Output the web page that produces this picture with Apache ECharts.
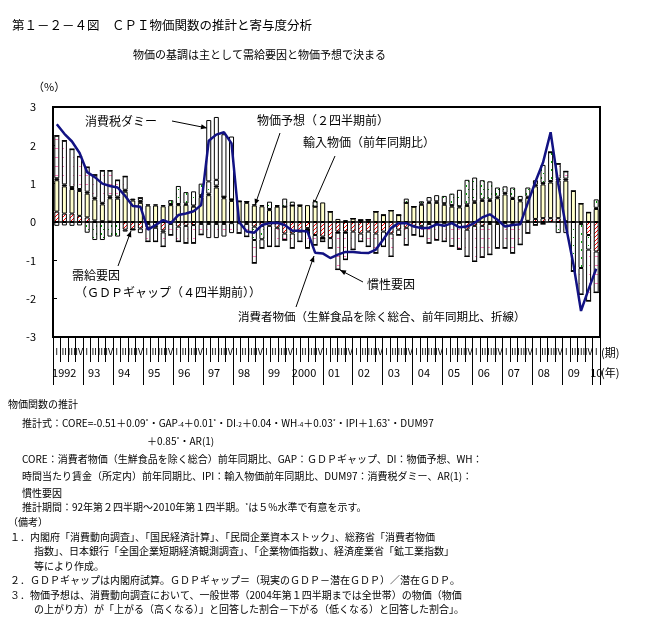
<!DOCTYPE html>
<html><head><meta charset="utf-8">
<script src="https://cdn.jsdelivr.net/npm/echarts@6/dist/echarts.min.js"></script>
<style>html,body{margin:0;padding:0;background:#fff}#c{width:659px;height:641px}</style>
</head><body><div id="c"></div>
<script>
// ---- data ----
const dataQuarters = ["92Q2","92Q3","92Q4","93Q1","93Q2","93Q3","93Q4","94Q1","94Q2","94Q3","94Q4","95Q1","95Q2","95Q3","95Q4","96Q1","96Q2","96Q3","96Q4","97Q1","97Q2","97Q3","97Q4","98Q1","98Q2","98Q3","98Q4","99Q1","99Q2","99Q3","99Q4","00Q1","00Q2","00Q3","00Q4","01Q1","01Q2","01Q3","01Q4","02Q1","02Q2","02Q3","02Q4","03Q1","03Q2","03Q3","03Q4","04Q1","04Q2","04Q3","04Q4","05Q1","05Q2","05Q3","05Q4","06Q1","06Q2","06Q3","06Q4","07Q1","07Q2","07Q3","07Q4","08Q1","08Q2","08Q3","08Q4","09Q1","09Q2","09Q3","09Q4","10Q1"];
const axisQuarters = ["92Q1","92Q2","92Q3","92Q4","93Q1","93Q2","93Q3","93Q4","94Q1","94Q2","94Q3","94Q4","95Q1","95Q2","95Q3","95Q4","96Q1","96Q2","96Q3","96Q4","97Q1","97Q2","97Q3","97Q4","98Q1","98Q2","98Q3","98Q4","99Q1","99Q2","99Q3","99Q4","00Q1","00Q2","00Q3","00Q4","01Q1","01Q2","01Q3","01Q4","02Q1","02Q2","02Q3","02Q4","03Q1","03Q2","03Q3","03Q4","04Q1","04Q2","04Q3","04Q4","05Q1","05Q2","05Q3","05Q4","06Q1","06Q2","06Q3","06Q4","07Q1","07Q2","07Q3","07Q4","08Q1","08Q2","08Q3","08Q4","09Q1","09Q2","09Q3","09Q4","10Q1"];
const quarterTickLabels = {"Q1":"Ⅰ","Q2":"Ⅱ","Q3":"Ⅲ","Q4":"Ⅳ"};
const yearTickLabels = ["1992","93","94","95","96","97","98","99","2000","01","02","03","04","05","06","07","08","09","10"];
const yTicks = [-3,-2,-1,0,1,2,3];

// 需給要因（GDPギャップ）
const gapData = [0.27,0.22,0.22, 0.16,0.12,0.04,0.02, 0.01,0.00,-0.20,-0.19, -0.17,-0.05,-0.10,-0.22, -0.05,-0.12,-0.10,-0.08, -0.05,-0.05,-0.05,-0.05, -0.03,-0.03,-0.05,-0.12, -0.10,-0.10,-0.15,-0.30, -0.30,-0.25,-0.16,-0.34, -0.38,-0.42,-0.25,-0.25, -0.25,-0.30,-0.25,-0.30, -0.25,-0.30,-0.20,-0.15, -0.10,-0.10,-0.05,-0.05, -0.03,-0.03,-0.02,-0.20, -0.10,-0.10,-0.05,-0.05, -0.03,-0.03,-0.03,0.03, 0.08,0.10,0.10,0.10, 0.02,0.00,-0.05,-0.34, -0.77];
// 物価予想（2四半期前）
const expData = [0.82,0.71,0.64, 0.65,0.62,0.55,0.44, 0.61,0.61,0.79,0.56, 0.50,0.43,0.43,0.41, 0.44,0.44,0.45,0.40, 0.65,0.70,0.90,0.62, 0.55,0.54,0.50,0.43, 0.41,0.31,0.40,0.40, 0.43,0.42,0.44,0.40, 0.51,0.27,0.08,0.05, 0.09,0.05,0.06,0.27, 0.18,0.30,0.18,0.50, 0.40,0.45,0.50,0.50, 0.45,0.40,0.38,0.42, 0.50,0.55,0.55,0.62, 0.72,0.60,0.54,0.60, 0.85,0.88,0.93,0.98, 1.06,0.81,0.48,0.25, 0.34];
// 時間当たり賃金
const wageData = [0.05,0.05,0.05, 0.05,0.05,0.04,0.04, 0.05,0.05,0.05,0.05, 0.05,0.03,0.03,0.03, 0.03,0.03,0.03,0.03, 0.05,0.04,0.05,0.04, 0.04,0.00,0.03,0.03, 0.03,0.03,0.02,0.00, 0.00,0.02,-0.08,0.00, -0.05,0.00,-0.03,-0.03, 0,0,0,0, 0,0,0,0, 0,0.03,0.03,0.04, 0.04,0.04,0.03,0.04, 0.04,0.04,0.04,0.04, 0.04,0.03,0.03,0.03, 0.04,0.04,0.04,0.05, 0.05,0,0,0, 0.03];
// 輸入物価（前年同期比）
const importData = [-0.10,-0.09,-0.10, -0.09,-0.28,-0.47,-0.47, -0.38,-0.38,-0.05,-0.01, -0.12,-0.10,-0.05,-0.05, 0.10,0.47,0.30,0.37, 0.30,0.32,0.15,0.00, 0,0,0,-0.35, -0.35,0.19,0.02,0.21, 0.10,0,0,0.14, 0,0,0,0, 0,0,0,0, 0,0,0,0.11, 0,0.06,0.12,0.16, 0.19,0.30,0.43,0.64, 0.62,0.50,0.47,0.24, 0.17,0.27,0.11,0.24, 0.12,0.47,0.75,-0.29, -0.29,-1.28,-1.15,-0.38, 0.22];
// 消費税ダミー
const taxData = [0,0,0, 0,0,0,0, 0,0,0,0, 0,0,0,0, 0,0,0,0, 0,1.60,1.64,1.63, 1.64,0,0,0, 0,0,0,0, 0,0,0,0, 0,0,0,0, 0,0,0,0, 0,0,0,0, 0,0,0,0, 0,0,0,0, 0,0,0,0, 0,0,0,0, 0,0,0,0, 0,0,0,0, 0];
// 慣性要因
const inertiaData = [1.11,1.14,0.99, 0.85,0.64,0.60,0.84, 0.67,0.43,0.35,0.00, 0.08,-0.36,-0.36,-0.37, -0.29,-0.39,-0.45,-0.47, -0.28,-0.37,-0.37,-0.33, -0.26,-0.26,-0.33,-0.60, -0.23,-0.54,-0.49,-0.17, -0.38,-0.26,-0.44,-0.26, -0.08,-0.26,-0.96,-0.70, -0.47,-0.21,-0.39,-0.51, -0.39,-0.60,-0.14,-0.45, -0.24,-0.28,-0.50,-0.42, -0.48,-0.60,-0.69,-0.70, -0.93,-0.82,-0.80,-0.63, -0.65,-0.78,-0.56,-0.29, -0.08,-0.05,0.00,0.39, 0.19,0.00,-0.69,-1.34, -1.07];
// 消費者物価（生鮮食品を除く総合、前年同期比）
const coreCPI = [2.55,2.30,2.10, 1.80,1.30,1.17,1.00, 0.94,0.90,0.68,0.42, 0.40,-0.20,-0.08,0.05, -0.03,0.18,0.22,0.28, 0.44,2.12,2.28,2.34, 2.05,0.00,-0.25,-0.28, -0.08,-0.03,-0.02,-0.08, -0.23,-0.23,-0.25,-0.80, -0.82,-0.94,-0.85,-0.78, -0.78,-0.80,-0.81,-0.72, -0.45,-0.16,-0.03,-0.03, -0.12,-0.16,-0.15,-0.06, -0.10,-0.03,-0.14,-0.12, -0.02,0.12,0.20,0.06, -0.12,-0.08,-0.06,0.50, 1.05,1.55,2.34,1.00, -0.10,-1.10,-2.32,-1.75, -1.22];

// ---- patterns ----
function pat(w, h, draw) {
  const c = document.createElement('canvas'); c.width = w; c.height = h;
  const g = c.getContext('2d'); g.fillStyle = '#fff'; g.fillRect(0, 0, w, h); draw(g);
  return { image: c, repeat: 'repeat' };
}
const redHatch = pat(4, 4, g => { g.strokeStyle = '#ff0000'; g.lineWidth = 1;
  [[0,4,4,0],[-1,1,1,-1],[3,5,5,3]].forEach(s => { g.beginPath(); g.moveTo(s[0], s[1]); g.lineTo(s[2], s[3]); g.stroke(); }); });
const greenDots = pat(5, 8, g => { g.fillStyle = '#009a00'; g.fillRect(1, 1, 1, 2); g.fillRect(3, 5, 1, 1); });
const pinkDash = pat(6, 9, g => { g.fillStyle = '#ff7fbf'; g.fillRect(1, 4, 3, 1); });

const JP = '"Noto Sans CJK JP", sans-serif';
function txt(x, y, text, size, extra) {
  return Object.assign({ type: 'text', x: x, y: y, silent: true,
    style: Object.assign({ text: text, fill: '#000', font: size + 'px ' + JP, textVerticalAlign: 'middle', verticalAlign: 'middle' }, extra || {}) });
}
function arrow(x1, y1, x2, y2) {
  const a = Math.atan2(y2 - y1, x2 - x1), L = 6, W = 2.5;
  const pts = [[x2, y2], [x2 - L * Math.cos(a) + W * Math.sin(a), y2 - L * Math.sin(a) - W * Math.cos(a)], [x2 - L * Math.cos(a) - W * Math.sin(a), y2 - L * Math.sin(a) + W * Math.cos(a)]];
  return [{ type: 'line', silent: true, shape: { x1: x1, y1: y1, x2: x2, y2: y2 }, style: { stroke: '#000', lineWidth: 1 } },
          { type: 'polygon', silent: true, shape: { points: pts }, style: { fill: '#000' } }];
}
const rich = { sup: { fontSize: 6.5, verticalAlign: 'top', fontFamily: JP }, sub: { fontSize: 6.5, verticalAlign: 'bottom', fontFamily: JP } };
const FN = 10;

const graphics = [
  txt(12, 25, '第１－２－４図　ＣＰＩ物価関数の推計と寄与度分析', 12.5),
  txt(133, 55, '物価の基調は主として需給要因と物価予想で決まる', 11),
  txt(33, 87, '（%）', 11),
  txt(85, 121, '消費税ダミー', 12),
  txt(257, 120, '物価予想（２四半期前）', 12),
  txt(303, 142, '輸入物価（前年同期比）', 12),
  txt(72, 275, '需給要因', 12),
  txt(75, 292, '（ＧＤＰギャップ（４四半期前））', 12),
  txt(367, 284, '慣性要因', 12),
  txt(238, 317, '消費者物価（生鮮食品を除く総合、前年同期比、折線）', 11.5),
  txt(601, 353, '(期)', 11),
  txt(601, 373, '(年)', 11),
  txt(8, 404, '物価関数の推計', FN),
  txt(22, 423, '推計式：CORE=-0.51＋0.09{sup|*}・GAP{sub|-4}＋0.01{sup|*}・DI{sub|-2}＋0.04・WH{sub|-4}＋0.03{sup|*}・IPI＋1.63{sup|*}・DUM97', FN, { rich: rich }),
  txt(147, 441, '＋0.85{sup|*}・AR(1)', FN, { rich: rich }),
  txt(22, 459, 'CORE：消費者物価（生鮮食品を除く総合）前年同期比、GAP：ＧＤＰギャップ、DI：物価予想、WH：', FN),
  txt(22, 476, '時間当たり賃金（所定内）前年同期比、IPI：輸入物価前年同期比、DUM97：消費税ダミー、AR(1)：', FN),
  txt(22, 493, '慣性要因', FN),
  txt(22, 507, '推計期間：92年第２四半期～2010年第１四半期。{sup|*}は５%水準で有意を示す。', FN, { rich: rich }),
  txt(8, 522, '（備考）', FN),
  txt(10, 537, '１．内閣府「消費動向調査」、「国民経済計算」、「民間企業資本ストック」、総務省「消費者物価', FN),
  txt(34, 551, '指数」、日本銀行「全国企業短期経済観測調査」、「企業物価指数」、経済産業省「鉱工業指数」', FN),
  txt(34, 566, '等により作成。', FN),
  txt(10, 580, '２．ＧＤＰギャップは内閣府試算。ＧＤＰギャップ＝（現実のＧＤＰ－潜在ＧＤＰ）／潜在ＧＤＰ。', FN),
  txt(10, 595, '３．物価予想は、消費動向調査において、一般世帯（2004年第１四半期までは全世帯）の物価（物価', FN),
  txt(34, 609, 'の上がり方）が「上がる（高くなる）」と回答した割合－下がる（低くなる）と回答した割合」。', FN)
].concat(
  arrow(172, 121, 207, 128),
  arrow(280, 133, 255, 205),
  arrow(335, 156, 313, 206),
  arrow(118, 266, 131, 231),
  arrow(363, 282, 340, 270),
  arrow(296, 307, 314, 256)
);

function barSeries(name, data, color) {
  return { name: name, type: 'bar', stack: 'total', data: data, barWidth: 5, xAxisIndex: 0,
    itemStyle: { color: color, borderColor: '#000', borderWidth: 1 }, emphasis: { disabled: true } };
}

const chart = echarts.init(document.getElementById('c'), null, { renderer: 'canvas' });
chart.setOption({
  animation: false,
  backgroundColor: '#fff',
  grid: { left: 53, right: 59, top: 107, bottom: 304, show: true, borderColor: '#000', borderWidth: 2, backgroundColor: 'transparent' },
  xAxis: [
    { type: 'category', data: dataQuarters, show: false, boundaryGap: true },
    { type: 'category', data: axisQuarters, position: 'bottom', boundaryGap: true,
      axisLine: { show: true, lineStyle: { color: '#000', width: 2 } },
      axisTick: { show: true, length: 25, interval: 0, lineStyle: { color: '#000', width: 1 } },
      axisLabel: { interval: 0, margin: 10, fontSize: 9, fontFamily: JP, color: '#000',
        formatter: v => quarterTickLabels[v.slice(2)] } },
    { type: 'category', data: axisQuarters, position: 'bottom', boundaryGap: true,
      axisLine: { show: false },
      axisTick: { show: true, length: 48, interval: i => i % 4 === 0, lineStyle: { color: '#000', width: 1 } },
      axisLabel: { interval: i => (i % 4 === 1 || i === 72), margin: 30, fontSize: 11, fontFamily: JP, color: '#000',
        formatter: (v, i) => i === 72 ? yearTickLabels[18] : yearTickLabels[(i - 1) / 4] } }
  ],
  yAxis: { type: 'value', min: yTicks[0], max: yTicks[yTicks.length - 1], interval: 1,
    axisLine: { show: true, lineStyle: { color: '#000', width: 2 } },
    axisTick: { show: true, inside: true, length: 4, lineStyle: { color: '#000' } },
    splitLine: { show: false },
    axisLabel: { margin: 17, fontSize: 11, fontFamily: JP, color: '#000' } },
  series: [
    Object.assign(barSeries('需給要因', gapData, redHatch), {
      markLine: { silent: true, symbol: ['none', 'none'], label: { show: false },
        lineStyle: { color: '#000', width: 1.5, type: 'solid' }, data: [{ yAxis: 0 }] } }),
    barSeries('物価予想', expData, '#ffffcc'),
    barSeries('時間当たり賃金', wageData, '#000'),
    barSeries('輸入物価', importData, greenDots),
    barSeries('慣性要因', inertiaData, pinkDash),
    barSeries('消費税ダミー', taxData, '#ffffff'),
    { name: '消費者物価', type: 'line', data: coreCPI, xAxisIndex: 0, symbol: 'none', smooth: false,
      lineStyle: { color: '#121283', width: 2.5 }, z: 5 }
  ],
  graphic: graphics
});
</script></body></html>
